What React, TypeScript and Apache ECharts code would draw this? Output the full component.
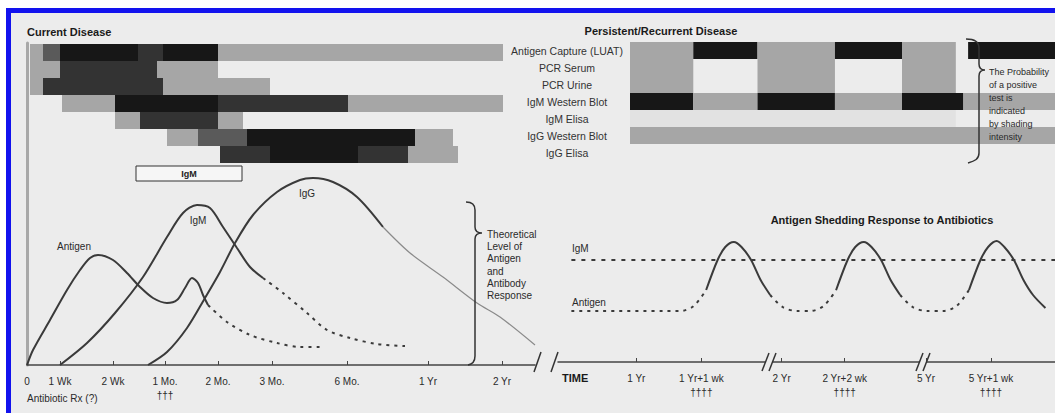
import React, { useEffect, useRef } from 'react';
import * as echarts from 'echarts';

// ---------- data ----------
// Current disease test windows: [start, end, row, shade] (time position units, 0 = onset)
const currentRows = ['Antigen Capture (LUAT)', 'PCR Serum', 'PCR Urine', 'IgM Western Blot', 'IgM Elisa', 'IgG Western Blot', 'IgG Elisa', ''];
const currentBars = [
  [3, 16, 0, 1], [16, 33, 0, 2], [33, 111, 0, 4], [111, 136, 0, 3], [136, 191, 0, 4], [191, 476, 0, 1],
  [3, 33, 1, 1], [33, 130, 1, 3], [130, 191, 1, 1],
  [3, 16, 2, 1], [16, 136, 2, 3], [136, 243, 2, 1],
  [35, 88, 3, 1], [88, 191, 3, 4], [191, 321, 3, 3], [321, 476, 3, 1],
  [88, 113, 4, 1], [113, 191, 4, 3], [191, 216, 4, 1],
  [140, 171, 5, 1], [171, 220, 5, 2], [220, 388, 5, 4], [388, 426, 5, 1],
  [193, 243, 6, 3], [243, 331, 6, 4], [331, 381, 6, 3], [381, 431, 6, 1],
];
const boxBars = [[109, 215, 7]];
const boxLabels = ['IgM'];

// Persistent / recurrent disease: [start, end, row, shade]
const persistentRows = ['Antigen Capture (LUAT)', 'PCR Serum', 'PCR Urine', 'IgM Western Blot', 'IgM Elisa', 'IgG Western Blot', 'IgG Elisa'];
const persistentBars = [
  [0, 67, 0, 1], [67, 135, 0, 4], [135, 217, 0, 1], [217, 288, 0, 4], [288, 345, 0, 1], [358, 450, 0, 4],
  [0, 67, 1, 1], [135, 217, 1, 1], [288, 345, 1, 1],
  [0, 67, 2, 1], [135, 217, 2, 1], [288, 345, 2, 1],
  [0, 67, 3, 4], [67, 135, 3, 1], [135, 217, 3, 4], [217, 288, 3, 1], [288, 353, 3, 4], [353, 450, 3, 1],
  [0, 345, 4, 0],
  [0, 450, 5, 1],
];
const shadeColors = ['#e2e2e2', '#a6a6a6', '#5a5a5a', '#333333', '#171717'];

// Current disease curves: [time position, level]
const antigenSolid = [[0, 0], [6, 15], [23, 45], [40, 75], [53, 95], [63, 107], [71, 110], [86, 105], [100, 92], [113, 78], [126, 67], [140, 62], [150, 65], [158, 77], [165, 87], [171, 82], [176, 70], [181, 60]];
const antigenDashed = [[181, 60], [200, 43], [223, 30], [250, 22], [273, 18], [293, 18]];
const igmSolid = [[33, 0], [60, 22], [88, 52], [116, 88], [140, 128], [156, 152], [170, 160], [183, 157], [196, 138], [210, 117], [223, 98], [236, 87]];
const igmDashed = [[236, 87], [256, 72], [280, 52], [300, 35], [323, 27], [350, 21], [378, 19]];
const iggSolid = [[121, 0], [140, 13], [160, 37], [178, 67], [193, 93], [208, 122], [226, 150], [250, 173], [273, 185], [286, 187], [306, 183], [330, 168], [356, 138]];
const iggTail = [[356, 138], [383, 112], [416, 88], [450, 62], [473, 48], [508, 20]];

const leftTickValues = [0, 33, 86, 138, 191, 245, 320, 401, 475];
const leftTickLabels = ['0', '1 Wk', '2 Wk', '1 Mo.\n†††', '2 Mo.', '3 Mo.', '6 Mo.', '1 Yr', '2 Yr'];

// Shedding response curves
const igmLevel = [[14, 102], [520, 102]];
const shedDashedSegs = [
  [[14, 51], [128, 51], [142, 56], [155, 72]],
  [[222, 67], [235, 55], [250, 51], [264, 51], [278, 56], [291, 72]],
  [[358, 67], [371, 55], [386, 51], [403, 51], [417, 56], [430, 72]],
];
const shedSolidSegs = [
  [[155, 72], [167, 102], [175, 115], [184, 120], [192, 115], [202, 102], [212, 82], [222, 67]],
  [[291, 72], [303, 102], [311, 115], [320, 120], [328, 115], [338, 102], [348, 82], [358, 67]],
  [[430, 72], [442, 102], [450, 115], [459, 121], [467, 115], [477, 102], [487, 82], [497, 67], [510, 54]],
];
const rightTickValues = [82, 150, 234, 300, 385, 453];
const rightLabelValues = [18, 82, 150, 234, 300, 385, 453];
const rightLabelTexts = ['{b|TIME}', '1 Yr', '1 Yr+1 wk\n††††', '2 Yr', '2 Yr+2 wk\n††††', '5 Yr', '5 Yr+1 wk\n††††'];

// ---------- decoration paths ----------
const braceLeftPath = 'M466 202 C472 202 475 204 475 210 L475 227 C475 231 478 233 482 233 C478 233 475 235 475 239 L475 356 C475 361 473 364 468 365';
const braceRightPath = 'M966 39 C974 39 979 42 979 48 L979 64 C979 68 981 70 985 70 C981 70 979 72 979 76 L979 153 C979 159 975 161 968 163';
echarts.graphic.registerShape('braceLeft', echarts.graphic.extendPath(braceLeftPath, {}) as any);
echarts.graphic.registerShape('braceRight', echarts.graphic.extendPath(braceRightPath, {}) as any);

const FONT = '"Liberation Sans", Arial, sans-serif';
const BG = '#ececec';

function txt(text: string, x: number, y: number, opts: any = {}) {
  const size = opts.size || 10;
  const weight = opts.bold ? 'bold ' : '';
  const align = opts.align || 'left';
  const va = opts.va || 'middle';
  return {
    type: 'text', x, y, z: 100, silent: true,
    style: {
      text, fill: opts.color || '#2a2a2a', font: `${weight}${size}px ${FONT}`,
      align, textAlign: align, verticalAlign: va, textVerticalAlign: va,
      lineHeight: opts.lh || size + 2,
    },
  };
}
function slash(x1: number, y1: number, x2: number, y2: number) {
  return { type: 'line', z: 100, silent: true, shape: { x1, y1, x2, y2 }, style: { stroke: '#333', lineWidth: 1.5 } };
}
function gap(x: number, w: number, y: number) {
  return { type: 'rect', z: 99, silent: true, shape: { x, y: y - 3, width: w, height: 6 }, style: { fill: BG } };
}

const ganttRender = (params: any, api: any) => {
  const s = api.coord([api.value(0), api.value(2)]);
  const e = api.coord([api.value(1), api.value(2)]);
  const h = api.size([0, 1])[1];
  return {
    type: 'rect',
    shape: { x: s[0], y: s[1] - h / 2, width: e[0] - s[0], height: h },
    style: { fill: shadeColors[api.value(3)] },
  };
};

function lineSeries(data: number[][], xi: number, opts: any = {}) {
  return {
    type: 'line', xAxisIndex: xi, yAxisIndex: xi, data, smooth: opts.smooth ?? 0.3,
    showSymbol: false, symbol: 'none', silent: true, clip: false, z: 5,
    lineStyle: { color: opts.color || '#3a3a3a', width: opts.width || 2, type: opts.type || 'solid' },
  };
}

export default function App() {
  const ref = useRef<HTMLDivElement>(null);
  useEffect(() => {
    const chart = echarts.init(ref.current!, undefined, { renderer: 'svg' });
    const hiddenAxis = { show: false };
    const option: any = {
      animation: false,
      backgroundColor: '#ffffff',
      textStyle: { fontFamily: FONT },
      grid: [
        { left: 27, width: 508, top: 44, height: 136 },
        { left: 630, width: 450, top: 42, height: 119 },
        { left: 27, width: 508, top: 43, height: 322 },
        { left: 558, width: 520, top: 190, height: 172 },
      ],
      xAxis: [
        { gridIndex: 0, type: 'value', min: 0, max: 508, ...hiddenAxis },
        { gridIndex: 1, type: 'value', min: 0, max: 450, ...hiddenAxis },
        {
          gridIndex: 2, type: 'value', min: 0, max: 508,
          axisLine: { show: true, lineStyle: { color: '#444', width: 1.5 } },
          axisTick: { show: true, inside: true, length: 4, customValues: leftTickValues.slice(1), lineStyle: { color: '#444' } },
          splitLine: { show: false },
          axisLabel: {
            customValues: leftTickValues, margin: 9, fontSize: 10, color: '#2a2a2a', lineHeight: 14,
            formatter: (v: number) => { const i = leftTickValues.indexOf(Math.round(v)); return i >= 0 ? leftTickLabels[i] : ''; },
          },
        },
        {
          gridIndex: 3, type: 'value', min: 0, max: 520,
          axisLine: { show: true, lineStyle: { color: '#444', width: 1.5 } },
          axisTick: { show: true, inside: true, length: 4, customValues: rightTickValues, lineStyle: { color: '#444' } },
          splitLine: { show: false },
          axisLabel: {
            customValues: rightLabelValues, margin: 9, fontSize: 10, color: '#2a2a2a', lineHeight: 14,
            rich: { b: { fontWeight: 'bold', fontSize: 11, color: '#1a1a1a' } },
            formatter: (v: number) => { const i = rightLabelValues.indexOf(Math.round(v)); return i >= 0 ? rightLabelTexts[i] : ''; },
          },
        },
      ],
      yAxis: [
        { gridIndex: 0, type: 'category', data: currentRows, inverse: true, ...hiddenAxis },
        {
          gridIndex: 1, type: 'category', data: persistentRows, inverse: true,
          axisLine: { show: false }, axisTick: { show: false }, splitLine: { show: false },
          axisLabel: { show: true, align: 'center', margin: 63, fontSize: 10.5, color: '#333' },
        },
        {
          gridIndex: 2, type: 'value', min: 0, max: 322,
          axisLine: { show: true, lineStyle: { color: '#a8a8a8', width: 3 } },
          axisTick: { show: false }, axisLabel: { show: false }, splitLine: { show: false },
        },
        { gridIndex: 3, type: 'value', min: 0, max: 172, ...hiddenAxis },
      ],
      series: [
        { type: 'custom', xAxisIndex: 0, yAxisIndex: 0, data: currentBars, renderItem: ganttRender, silent: true, z: 2 },
        {
          type: 'custom', xAxisIndex: 0, yAxisIndex: 0, data: boxBars, silent: true, z: 2,
          renderItem: (params: any, api: any) => {
            const s = api.coord([api.value(0), api.value(2)]);
            const e = api.coord([api.value(1), api.value(2)]);
            const h = api.size([0, 1])[1];
            return {
              type: 'group', children: [
                { type: 'rect', shape: { x: s[0], y: s[1] - h / 2 + 3, width: e[0] - s[0], height: h - 2 }, style: { fill: '#f6f6f6', stroke: '#333', lineWidth: 1 } },
                { type: 'text', style: { text: boxLabels[params.dataIndex], x: (s[0] + e[0]) / 2, y: s[1] + 2, align: 'center', verticalAlign: 'middle', font: `bold 9px ${FONT}`, fill: '#222' } },
              ],
            };
          },
        },
        { type: 'custom', xAxisIndex: 1, yAxisIndex: 1, data: persistentBars, renderItem: ganttRender, silent: true, z: 2 },
        lineSeries(antigenSolid, 2),
        lineSeries(antigenDashed, 2, { type: [3, 5] }),
        lineSeries(igmSolid, 2),
        lineSeries(igmDashed, 2, { type: [3, 5] }),
        lineSeries(iggSolid, 2),
        lineSeries(iggTail, 2, { color: '#8a8a8a', width: 1.2 }),
        lineSeries(igmLevel, 3, { type: [4, 6], smooth: false }),
        ...shedDashedSegs.map((d) => lineSeries(d, 3, { type: [3, 5] })),
        ...shedSolidSegs.map((d) => lineSeries(d, 3)),
      ],
      graphic: [
        { type: 'rect', z: -10, silent: true, shape: { x: 8.5, y: 10.5, width: 1100, height: 500 }, style: { fill: BG, stroke: '#1212ee', lineWidth: 5 } },
        txt('Current Disease', 27, 32, { bold: true, size: 11, color: '#1a1a1a' }),
        txt('Persistent/Recurrent Disease', 661, 31, { bold: true, size: 11, align: 'center', color: '#1a1a1a' }),
        txt('Antigen Shedding Response to Antibiotics', 882, 220, { bold: true, size: 11, align: 'center', color: '#1a1a1a' }),
        { type: 'braceLeft', x: 0, y: 0, z: 100, silent: true, style: { stroke: '#333', fill: 'none', lineWidth: 1.5 } },
        { type: 'braceRight', x: 0, y: 0, z: 100, silent: true, style: { stroke: '#333', fill: 'none', lineWidth: 1.5 } },
        txt('Theoretical\nLevel of\nAntigen\nand\nAntibody\nResponse', 487, 228, { va: 'top', size: 10, lh: 12.3 }),
        txt('The Probability\nof a positive\ntest is\nindicated\nby shading\nintensity', 989, 65.5, { va: 'top', size: 9, lh: 13 }),
        txt('Antigen', 74, 246, { align: 'center' }),
        txt('IgM', 198, 220, { align: 'center' }),
        txt('IgG', 307, 193, { align: 'center' }),
        txt('IgM', 572, 248),
        txt('Antigen', 572, 302),
        txt('Antibiotic Rx (?)', 27, 398),
        slash(534, 372, 541, 352),
        slash(551, 372, 558, 352),
        gap(766, 6, 362),
        slash(762, 371, 769, 353),
        slash(769, 371, 776, 353),
        gap(920, 6, 362),
        slash(916, 371, 923, 353),
        slash(923, 371, 930, 353),
      ],
    };
    chart.setOption(option);
    return () => chart.dispose();
  }, []);
  return <div ref={ref} style={{ position: 'absolute', left: 0, top: 0, width: 1055, height: 413 }} />;
}
